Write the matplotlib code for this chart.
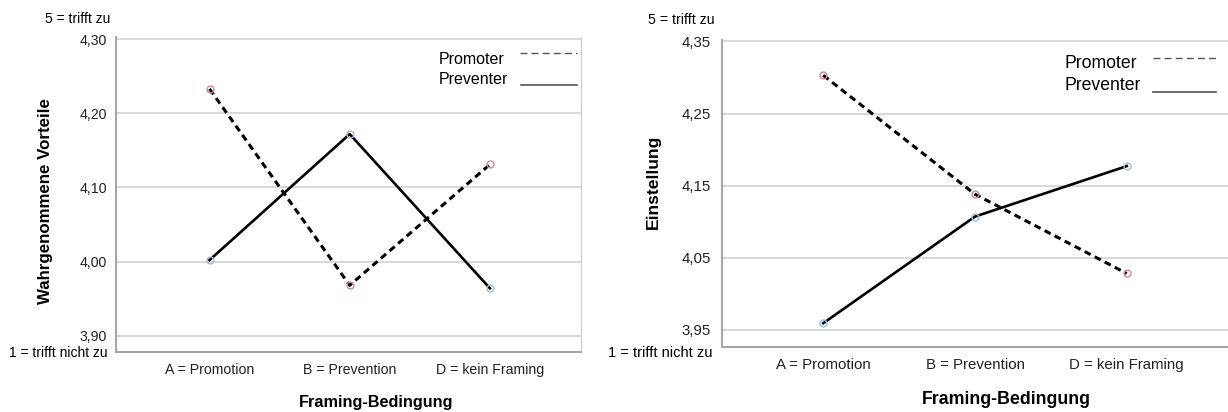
import matplotlib
matplotlib.use("Agg")
import matplotlib.pyplot as plt
from matplotlib.lines import Line2D

categories = ["A = Promotion", "B = Prevention", "D = kein Framing"]
vorteile_promoter = [4.233, 3.968, 4.131]
vorteile_preventer = [4.002, 4.172, 3.964]
einstellung_promoter = [4.303, 4.138, 4.028]
einstellung_preventer = [3.959, 4.107, 4.177]
vorteile_ticks = [3.90, 4.00, 4.10, 4.20, 4.30]
einstellung_ticks = [3.95, 4.05, 4.15, 4.25, 4.35]
series_names = ["Promoter", "Preventer"]
top_note = "5 = trifft zu"
bottom_note = "1 = trifft nicht zu"
xlabel_text = "Framing-Bedingung"

W, H = 1228, 412
plt.rcParams['font.family'] = ['Liberation Sans', 'DejaVu Sans']
fig = plt.figure(figsize=(W / 100, H / 100), dpi=100)

GRID = '#d9d9d9'
SPINE = '#a6a6a6'


def ax_at(x0, y0, x1, y1):
    return fig.add_axes([x0 / W, 1 - y1 / H, (x1 - x0) / W, (y1 - y0) / H])


def ftext(x, y, s, **kw):
    kw.setdefault('va', 'center')
    fig.text(x / W, 1 - y / H, s, **kw)


def fline(x0, x1, y, **kw):
    fig.add_artist(Line2D([x0 / W, x1 / W], [1 - y / H, 1 - y / H],
                          transform=fig.transFigure, **kw))


def draw_panel(ax, prom, prev, ticks, ylim, xlim, tfs, ypad, right_spine):
    xs = list(range(len(categories)))
    ax.plot(xs, prom, color='black', lw=2.2, ls=(0, (2.2, 1.5)), zorder=3,
            solid_capstyle='butt', dash_capstyle='butt')
    ax.plot(xs, prev, color='black', lw=1.9, zorder=3)
    ax.plot(xs, prom, ls='none', marker='o', ms=5, mfc='none', mec='#d08a98',
            mew=1.0, zorder=4)
    ax.plot(xs, prev, ls='none', marker='o', ms=5, mfc='none', mec='#9dbddb',
            mew=1.0, zorder=4)
    ax.set_xlim(*xlim)
    ax.set_ylim(*ylim)
    ax.set_xticks(xs)
    ax.set_xticklabels(categories, fontsize=tfs)
    ax.set_yticks(ticks)
    ax.set_yticklabels([f"{t:.2f}".replace('.', ',') for t in ticks], fontsize=tfs)
    ax.tick_params(length=0, colors='#222222')
    ax.tick_params(axis='y', pad=ypad)
    ax.tick_params(axis='x', pad=8)
    ax.grid(axis='y', color=GRID, lw=1.5)
    ax.set_axisbelow(True)
    ax.spines['top'].set_visible(False)
    for s in ('left', 'bottom'):
        ax.spines[s].set_color(SPINE)
        ax.spines[s].set_linewidth(1.5)
    if right_spine:
        ax.spines['right'].set_color('#d0d0d0')
        ax.spines['right'].set_linewidth(1.0)
    else:
        ax.spines['right'].set_visible(False)


# left panel
ax1 = ax_at(116, 37, 581, 352)
draw_panel(ax1, vorteile_promoter, vorteile_preventer, vorteile_ticks,
           (3.878, 4.303), (-0.667, 2.65), 10.2, 6.5, True)
ftext(110, 19, top_note, ha='right', fontsize=10)
ftext(108, 353, bottom_note, ha='right', fontsize=10)
ftext(46, 201, "Wahrgenommene Vorteile", ha='center', rotation=90,
      fontsize=12.2, fontweight='bold')
ftext(376, 402, xlabel_text, ha='center', fontsize=11.7, fontweight='bold')
ftext(439, 59, series_names[0], ha='left', fontsize=11.5)
ftext(439, 80, series_names[1], ha='left', fontsize=11.5)
fline(520, 577, 53, color='#555555', lw=1.0, ls=(0, (5, 3)))
fline(521, 577, 85, color='#555555', lw=1.2)

# right panel
ax2 = ax_at(722, 40, 1228, 347)
draw_panel(ax2, einstellung_promoter, einstellung_preventer, einstellung_ticks,
           (3.926, 4.352), (-0.667, 2.667), 10.8, 8, False)
ftext(715, 20, top_note, ha='right', fontsize=10.2)
ftext(712, 353, bottom_note, ha='right', fontsize=10.5)
ftext(653, 182, "Einstellung", ha='center', rotation=90,
      fontsize=12.6, fontweight='bold')
ftext(1006, 400, xlabel_text, ha='center', fontsize=12.8, fontweight='bold')
ftext(1064, 63, series_names[0], ha='left', fontsize=12.7)
ftext(1064, 86, series_names[1], ha='left', fontsize=12.7)
fline(1153, 1216, 58, color='#555555', lw=1.0, ls=(0, (5, 3)))
fline(1153, 1216, 92, color='#555555', lw=1.2)

fig.savefig('out.png', dpi=100, facecolor='white')
